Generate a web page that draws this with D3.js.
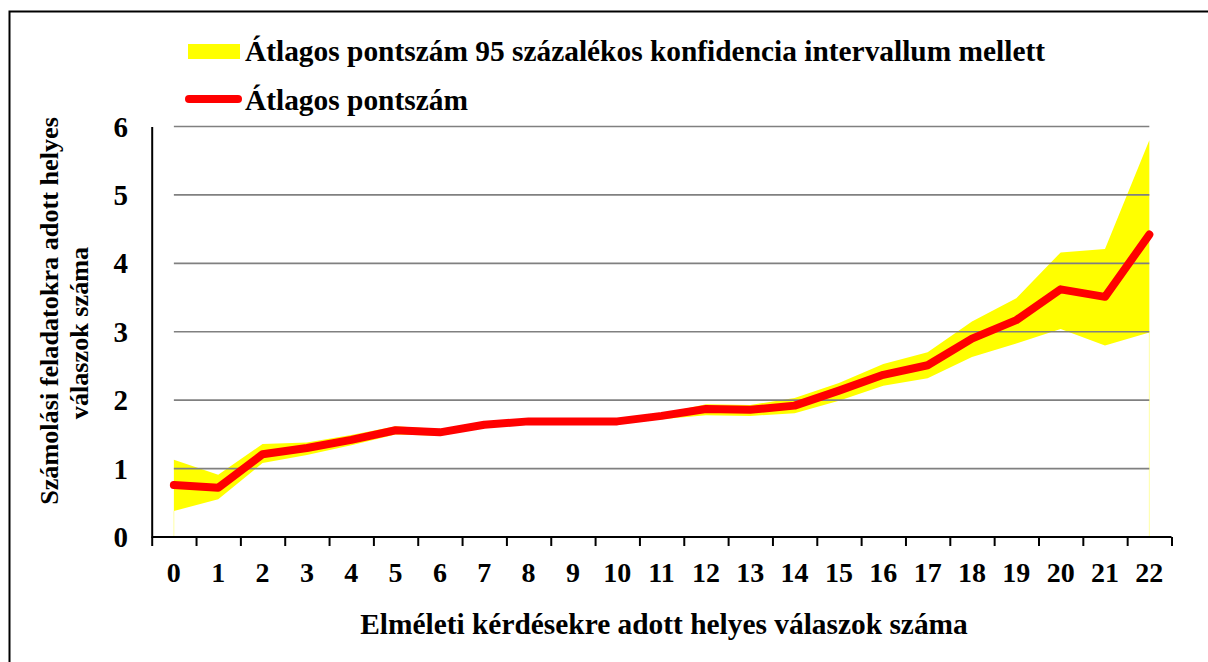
<!DOCTYPE html>
<html>
<head>
<meta charset="utf-8">
<script src="https://cdn.jsdelivr.net/npm/d3@7"></script>
<style>
  html, body { margin: 0; padding: 0; background: #fff; overflow: hidden; }
  text { font-family: "Liberation Serif", "Times New Roman", serif; font-weight: bold; fill: #000; }
</style>
</head>
<body>
<script>
// values
const categories = ['0', '1', '2', '3', '4', '5', '6', '7', '8', '9', '10', '11',
  '12', '13', '14', '15', '16', '17', '18', '19', '20', '21', '22']
const meanScore = [0.76, 0.72, 1.21, 1.30, 1.42, 1.56, 1.53, 1.64, 1.69, 1.69, 1.69, 1.77,
  1.87, 1.86, 1.92, 2.14, 2.37, 2.51, 2.90, 3.17, 3.62, 3.51, 4.42]
const ciUpper = [1.13, 0.91, 1.36, 1.38, 1.49, 1.62, 1.58, 1.68, 1.72, 1.72, 1.72, 1.80,
  1.94, 1.93, 2.03, 2.25, 2.53, 2.70, 3.15, 3.49, 4.16, 4.21, 5.80]
const ciLower = [0.38, 0.55, 1.08, 1.20, 1.34, 1.50, 1.48, 1.60, 1.65, 1.65, 1.65, 1.72,
  1.78, 1.77, 1.81, 1.99, 2.21, 2.32, 2.63, 2.83, 3.04, 2.80, 2.99]
const yTicks = [0, 1, 2, 3, 4, 5, 6]
const legendLabels = ['Átlagos pontszám 95 százalékos konfidencia intervallum mellett', 'Átlagos pontszám']
const xTitle = 'Elméleti kérdésekre adott helyes válaszok száma'
const yTitle = ['Számolási feladatokra adott helyes', 'válaszok száma']

const width = 1208, height = 662
const plot = {left: 151.7, right: 1171.5, top: 126.5, bottom: 537}

const svg = d3.select('body').append('svg')
  .attr('width', width)
  .attr('height', height)

// outer frame, runs off the right and bottom edges
svg.append('rect')
  .attr('x', 9.5).attr('y', 11.5)
  .attr('width', 1220).attr('height', 680)
  .attr('fill', 'none')
  .attr('stroke', '#000')
  .attr('stroke-width', 2)

const x = d3.scaleBand()
  .domain(categories)
  .range([plot.left, plot.right])
  .padding(0)
const cx = d => x(d) + x.bandwidth() / 2

const y = d3.scaleLinear()
  .domain([0, 6])
  .range([plot.bottom, plot.top])

const rows = categories.map((c, i) => ({c, mean: meanScore[i], lo: ciLower[i], hi: ciUpper[i]}))

// confidence band
svg.append('path')
  .datum(rows)
  .attr('fill', '#ffff00')
  .attr('d', d3.area().x(d => cx(d.c)).y0(d => y(d.lo)).y1(d => y(d.hi)))

// faint edges of the (invisible) lower stack
svg.selectAll('.edge')
  .data([rows[0], rows[rows.length - 1]])
  .enter().append('line')
  .attr('x1', d => cx(d.c)).attr('x2', d => cx(d.c))
  .attr('y1', d => y(d.lo)).attr('y2', y(0))
  .attr('stroke', '#ffff00')
  .attr('stroke-opacity', 0.35)
  .attr('stroke-width', 1)

// gridlines
svg.append('g')
  .selectAll('line')
  .data(yTicks.filter(t => t > 0))
  .enter().append('line')
  .attr('x1', cx(categories[0]))
  .attr('x2', cx(categories[categories.length - 1]))
  .attr('y1', d => y(d)).attr('y2', d => y(d))
  .attr('stroke', '#808080')
  .attr('stroke-width', 1.6)

// mean line
svg.append('path')
  .datum(rows)
  .attr('fill', 'none')
  .attr('stroke', '#ff0000')
  .attr('stroke-width', 8)
  .attr('stroke-linejoin', 'round')
  .attr('stroke-linecap', 'round')
  .attr('d', d3.line().x(d => cx(d.c)).y(d => y(d.mean)))

// x axis: ticks sit on the band edges
const xEdge = d3.scaleLinear()
  .domain([0, categories.length])
  .range([plot.left, plot.right])
const xAxis = svg.append('g')
  .attr('transform', `translate(0, ${plot.bottom})`)
  .call(d3.axisBottom(xEdge)
    .tickValues(d3.range(categories.length + 1))
    .tickSize(9)
    .tickSizeOuter(9)
    .tickFormat(''))
xAxis.select('.domain').attr('stroke', '#000').attr('stroke-width', 2)
  .attr('d', `M${plot.left},0H${plot.right}`)
xAxis.selectAll('.tick line').attr('stroke', '#000').attr('stroke-width', 2)

svg.append('g')
  .selectAll('text')
  .data(categories)
  .enter().append('text')
  .attr('x', d => cx(d))
  .attr('y', 582)
  .attr('text-anchor', 'middle')
  .style('font-size', '28px')
  .text(d => d)

// y axis: plain line, labels only
const yAxis = svg.append('g')
  .attr('transform', `translate(${plot.left}, 0)`)
  .call(d3.axisLeft(y).tickValues(yTicks).tickSize(0).tickFormat(''))
yAxis.select('.domain').attr('stroke', '#000').attr('stroke-width', 2)

svg.append('g')
  .selectAll('text')
  .data(yTicks)
  .enter().append('text')
  .attr('x', 128)
  .attr('y', d => y(d))
  .attr('dy', '0.35em')
  .attr('text-anchor', 'end')
  .style('font-size', '29px')
  .text(d => d)

// axis titles
svg.append('text')
  .attr('x', 664)
  .attr('y', 634)
  .attr('text-anchor', 'middle')
  .style('font-size', '29.4px')
  .text(xTitle)

svg.append('text')
  .attr('transform', 'translate(58, 311) rotate(-90)')
  .attr('text-anchor', 'middle')
  .style('font-size', '26.2px')
  .text(yTitle[0])
svg.append('text')
  .attr('transform', 'translate(88, 333) rotate(-90)')
  .attr('text-anchor', 'middle')
  .style('font-size', '26.2px')
  .text(yTitle[1])

// legend
const legend = svg.append('g')
legend.append('rect')
  .attr('x', 188).attr('y', 44)
  .attr('width', 52).attr('height', 15)
  .attr('fill', '#ffff00')
legend.append('line')
  .attr('x1', 189).attr('x2', 238)
  .attr('y1', 99).attr('y2', 99)
  .attr('stroke', '#ff0000')
  .attr('stroke-width', 8)
  .attr('stroke-linecap', 'round')
legend.selectAll('text')
  .data(legendLabels)
  .enter().append('text')
  .attr('x', 245)
  .attr('y', (d, i) => 61 + i * 49)
  .style('font-size', '29.4px')
  .text(d => d)
</script>
</body>
</html>
